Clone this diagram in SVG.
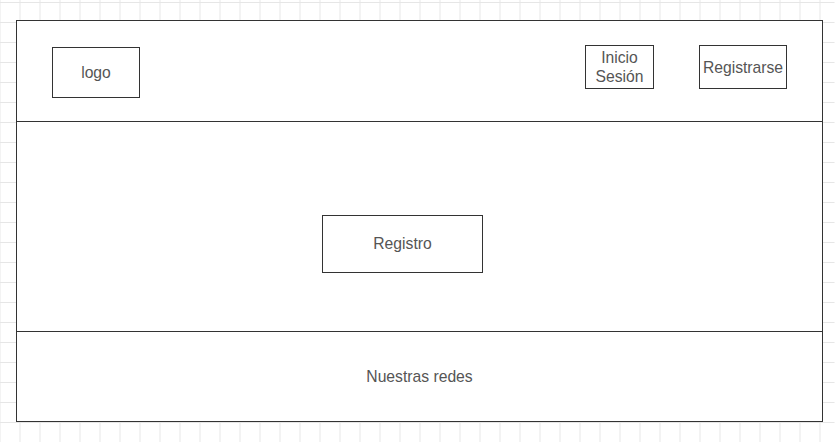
<svg xmlns="http://www.w3.org/2000/svg" width="835" height="442" viewBox="0 0 835 442">
<defs>
<pattern id="grid" x="0" y="2" width="20" height="20" patternUnits="userSpaceOnUse">
<path d="M0.5 0V20M0 0.5H20" fill="none" stroke="#e6e6e6" stroke-width="1"/>
</pattern>
</defs>
<style>
.box{fill:#fff;stroke:#333;stroke-width:1}
.ln{stroke:#333;stroke-width:1;fill:none}
.t{font-family:"Liberation Sans",Arial,sans-serif;font-size:15.7px;fill:#555;text-anchor:middle}
</style>
<rect x="0" y="0" width="835" height="442" fill="#fff"/>
<rect x="0" y="0" width="835" height="442" fill="url(#grid)" transform="translate(-0.5,0)"/>
<g id="page">
<rect class="box" x="16.5" y="20.5" width="806" height="401"/>
</g>
<g id="connectors">
<line class="ln" x1="16.5" y1="121.5" x2="822.5" y2="121.5"/>
<line class="ln" x1="16.5" y1="331.5" x2="822.5" y2="331.5"/>
</g>
<g id="logo">
<rect class="box" x="52.5" y="47.5" width="87" height="50"/>
<text class="t" x="96" y="78">logo</text>
</g>
<g id="inicio-sesion">
<rect class="box" x="585.5" y="45.5" width="68" height="43"/>
<text class="t" x="619.5" y="63">Inicio</text>
<text class="t" x="619.5" y="82">Sesión</text>
</g>
<g id="registrarse">
<rect class="box" x="699.5" y="45.5" width="87" height="43"/>
<text class="t" x="743" y="72.5">Registrarse</text>
</g>
<g id="registro">
<rect class="box" x="322.5" y="215.5" width="160" height="57"/>
<text class="t" x="402.5" y="249">Registro</text>
</g>
<g id="footer">
<text class="t" x="419.5" y="382">Nuestras redes</text>
</g>
</svg>
